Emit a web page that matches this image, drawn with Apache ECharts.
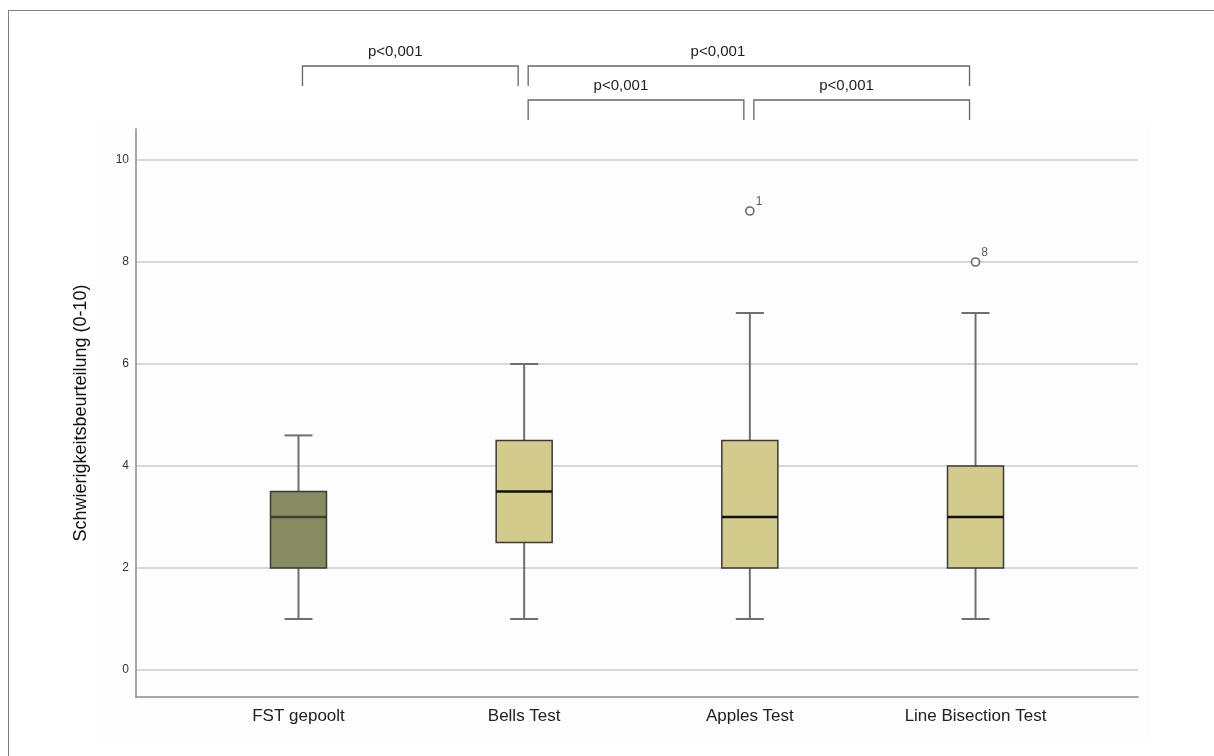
<!DOCTYPE html>
<html>
<head>
<meta charset="utf-8">
<script src="https://cdn.jsdelivr.net/npm/echarts@6/dist/echarts.min.js"></script>
<style>
  html, body { margin: 0; padding: 0; background: #ffffff; }
  #frame { position: absolute; left: 8px; top: 10px; width: 1206px; height: 746px;
           border-left: 1.5px solid #7f7f7f; border-top: 1.5px solid #7f7f7f; box-sizing: border-box; }
  #panel { position: absolute; left: 96px; top: 121px; width: 1055px; height: 622px; background: #fdfdfd; }
  #chart { position: absolute; left: 0; top: 0; width: 1214px; height: 756px; }
</style>
</head>
<body>
<div id="frame"></div>
<div id="panel"></div>
<div id="chart"></div>
<script>
// Difficulty ratings per test (0-10 scale)
const categories = ['FST gepoolt', 'Bells Test', 'Apples Test', 'Line Bisection Test'];
const whiskerLow = [1, 1, 1, 1];
const quartile1 = [2, 2.5, 2, 2];
const medians = [3, 3.5, 3, 3];
const quartile3 = [3.5, 4.5, 4.5, 4];
const whiskerHigh = [4.6, 6, 7, 7];

// Outliers: category index, value, case number
const outlierCategory = [2, 3];
const outlierValue = [9, 8];
const outlierCase = ['1', '8'];

// Pairwise comparisons drawn as brackets above the plot
const bracketFrom = [0, 1, 1, 2];
const bracketTo = [1, 3, 2, 3];
const bracketRow = [0, 0, 1, 1];
const bracketLabel = ['p<0,001', 'p<0,001', 'p<0,001', 'p<0,001'];

const yTicks = [0, 2, 4, 6, 8, 10];

const boxColors = ['#878b61', '#d2cb8c', '#d2cb8c', '#d2cb8c'];
const medianColors = ['#3e4130', '#111111', '#111111', '#111111'];
const FONT = '"Liberation Sans", Arial, sans-serif';

const boxData = categories.map((c, i) => [i, whiskerLow[i], quartile1[i], medians[i], quartile3[i], whiskerHigh[i]]);
const outlierData = outlierCategory.map((c, i) => [c, outlierValue[i], outlierCase[i]]);
const bracketData = bracketFrom.map((f, i) => [f, bracketTo[i], bracketRow[i], bracketLabel[i]]);

const X_MIN = -0.72, X_MAX = 3.72;

const chart = echarts.init(document.getElementById('chart'), null, { renderer: 'canvas' });

function renderBox(params, api) {
  const i = api.value(0);
  const x = api.coord([i, 0])[0];
  const yLow = api.coord([i, api.value(1)])[1];
  const yQ1 = api.coord([i, api.value(2)])[1];
  const yMed = api.coord([i, api.value(3)])[1];
  const yQ3 = api.coord([i, api.value(4)])[1];
  const yHigh = api.coord([i, api.value(5)])[1];
  const halfBox = 28, halfCap = 14;
  const whisk = { stroke: '#6f6f6f', lineWidth: 2 };
  return {
    type: 'group',
    children: [
      { type: 'line', shape: { x1: x, y1: yLow, x2: x, y2: yQ1 }, style: whisk },
      { type: 'line', shape: { x1: x, y1: yQ3, x2: x, y2: yHigh }, style: whisk },
      { type: 'line', shape: { x1: x - halfCap, y1: yLow, x2: x + halfCap, y2: yLow }, style: whisk },
      { type: 'line', shape: { x1: x - halfCap, y1: yHigh, x2: x + halfCap, y2: yHigh }, style: whisk },
      { type: 'rect', shape: { x: x - halfBox, y: yQ3, width: 2 * halfBox, height: yQ1 - yQ3 },
        style: { fill: boxColors[i], stroke: '#3a3a3a', lineWidth: 1.5 } },
      { type: 'line', shape: { x1: x - halfBox, y1: yMed, x2: x + halfBox, y2: yMed },
        style: { stroke: medianColors[i], lineWidth: 2.5 } }
    ]
  };
}

function renderBracket(params, api) {
  const from = api.value(0), to = api.value(1), row = api.value(2);
  const label = bracketData[params.dataIndex][3];
  const plotTop = api.coord([0, 10])[1];
  const xl = api.coord([from, 0])[0] + 4;
  const xr = api.coord([to, 0])[0] - 6;
  const top = plotTop - 94 + row * 34;
  const bottom = top + 20;
  const span = xr - xl;
  return {
    type: 'group',
    children: [
      { type: 'polyline', shape: { points: [[xl, bottom], [xl, top], [xr, top], [xr, bottom]] },
        style: { stroke: '#666666', lineWidth: 1.3, fill: null } },
      { type: 'text', x: (xl + xr) / 2 - 0.07 * span, y: top - 14,
        style: { text: label, fill: '#222222', font: '15px ' + FONT, align: 'center', verticalAlign: 'middle' } }
    ]
  };
}

chart.setOption({
  backgroundColor: 'transparent',
  animation: false,
  grid: [
    { left: 136, right: 76, top: 129, bottom: 59 },
    { left: 136, right: 76, top: 160, bottom: 86 }
  ],
  xAxis: [
    {
      gridIndex: 0, type: 'value', min: X_MIN, max: X_MAX,
      axisLine: { show: true, onZero: false, lineStyle: { color: '#8a8a8a', width: 1.5 } },
      axisTick: { show: false },
      splitLine: { show: false },
      axisLabel: {
        customValues: [0, 1, 2, 3],
        formatter: v => categories[Math.round(v)],
        fontSize: 17, color: '#222222', fontFamily: FONT, margin: 11
      }
    },
    {
      gridIndex: 1, type: 'value', min: X_MIN, max: X_MAX,
      axisLine: { show: false, onZero: false }, axisTick: { show: false },
      splitLine: { show: false }, axisLabel: { show: false }
    }
  ],
  yAxis: [
    {
      gridIndex: 0, type: 'value', min: -0.53, max: 10.6,
      axisLine: { show: true, onZero: false, lineStyle: { color: '#8a8a8a', width: 1.5 } },
      axisTick: { show: false }, splitLine: { show: false }, axisLabel: { show: false },
      name: 'Schwierigkeitsbeurteilung (0-10)', nameLocation: 'middle', nameGap: 46,
      nameTextStyle: { fontSize: 18, color: '#111111', fontFamily: FONT }
    },
    {
      gridIndex: 1, type: 'value', min: 0, max: 10, interval: 2,
      axisLine: { show: false, onZero: false }, axisTick: { show: false },
      splitLine: { show: true, lineStyle: { color: '#cacaca', width: 1.5 } },
      axisLabel: { fontSize: 12, color: '#333333', fontFamily: FONT, margin: 7,
        formatter: v => (yTicks.indexOf(v) >= 0 ? String(v) : '') }
    }
  ],
  series: [
    {
      type: 'custom', xAxisIndex: 1, yAxisIndex: 1,
      renderItem: renderBox, data: boxData, clip: false, z: 3
    },
    {
      type: 'scatter', xAxisIndex: 1, yAxisIndex: 1,
      data: outlierData, symbol: 'circle', symbolSize: 8,
      itemStyle: { color: '#ffffff', borderColor: '#444444', borderWidth: 1.6 },
      label: { show: true, position: 'right', distance: 1, offset: [0, -9],
        formatter: p => p.value[2], fontSize: 12, color: '#333333', fontFamily: FONT },
      z: 4
    },
    {
      type: 'custom', xAxisIndex: 1, yAxisIndex: 1,
      renderItem: renderBracket, data: bracketData, clip: false, z: 5
    }
  ]
});
</script>
</body>
</html>
